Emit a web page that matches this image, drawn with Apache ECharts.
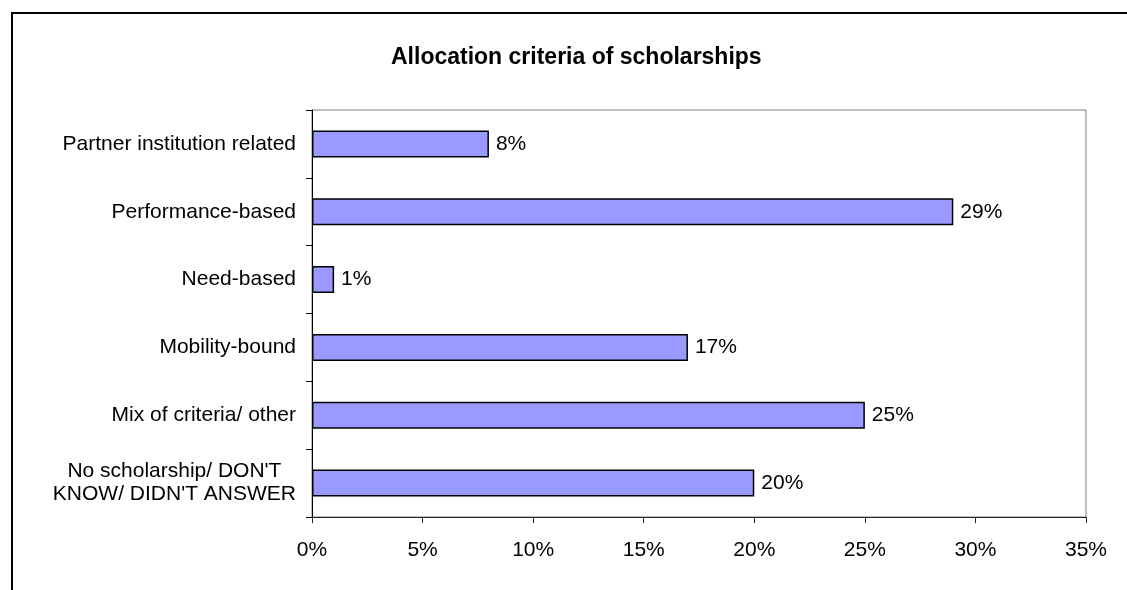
<!DOCTYPE html>
<html>
<head>
<meta charset="utf-8">
<script src="https://cdn.jsdelivr.net/npm/echarts@6/dist/echarts.min.js"></script>
<style>
  html, body { margin: 0; padding: 0; background: #fff; }
  #chart { width: 1127px; height: 590px; }
</style>
</head>
<body>
<div id="chart"></div>
<script>
// chart data
const titleText = 'Allocation criteria of scholarships';
const categories = [
    'Partner institution related',
    'Performance-based',
    'Need-based',
    'Mobility-bound',
    'Mix of criteria/ other',
    "No scholarship/ DON'T\nKNOW/ DIDN'T ANSWER"
];
const shares = [8, 29, 1, 17, 25, 20];
const axisMin = 0;
const axisMax = 35;
const axisStep = 5;

const font = '"Liberation Sans", Arial, sans-serif';
const chart = echarts.init(document.getElementById('chart'));

const option = {
    animation: false,
    backgroundColor: '#fff',
    textStyle: { fontFamily: font },
    title: {
        text: titleText,
        left: 386,
        top: 41,
        textStyle: {
            fontFamily: font,
            fontSize: 23,
            fontWeight: 'bold',
            color: '#000'
        }
    },
    // outer frame of the chart area (only top/left edges visible)
    graphic: [{
        type: 'rect',
        shape: { x: 12, y: 13, width: 1300, height: 800 },
        style: { fill: 'none', stroke: '#000', lineWidth: 2 },
        silent: true,
        z: 100
    }],
    grid: {
        left: 312,
        right: 41,
        top: 110,
        bottom: 73,
        show: true,
        borderColor: '#808080',
        borderWidth: 1,
        backgroundColor: '#fff'
    },
    xAxis: {
        type: 'value',
        min: axisMin,
        max: axisMax,
        interval: axisStep,
        splitLine: { show: false },
        axisLine: { show: true, lineStyle: { color: '#222', width: 1 } },
        axisTick: { show: true, length: 6, lineStyle: { color: '#222' } },
        axisLabel: {
            margin: 23,
            fontFamily: font,
            fontSize: 21,
            color: '#000',
            formatter: v => v + '%'
        }
    },
    yAxis: {
        type: 'category',
        data: categories,
        inverse: true,
        axisLine: { show: true, lineStyle: { color: '#000', width: 1 } },
        axisTick: { show: true, length: 6, lineStyle: { color: '#000' } },
        axisLabel: {
            margin: 16,
            color: '#000',
            formatter: v => '{c|' + v + '}',
            rich: {
                c: {
                    fontFamily: font,
                    fontSize: 21,
                    lineHeight: 23,
                    color: '#000',
                    align: 'center'
                }
            }
        }
    },
    series: [{
        type: 'bar',
        data: shares,
        barWidth: 27,
        itemStyle: {
            color: '#9999ff',
            borderColor: '#000',
            borderWidth: 1.5
        },
        label: {
            show: true,
            position: 'right',
            distance: 7,
            fontFamily: font,
            fontSize: 21,
            color: '#000',
            formatter: p => p.value + '%'
        }
    }]
};

chart.setOption(option);
</script>
</body>
</html>
